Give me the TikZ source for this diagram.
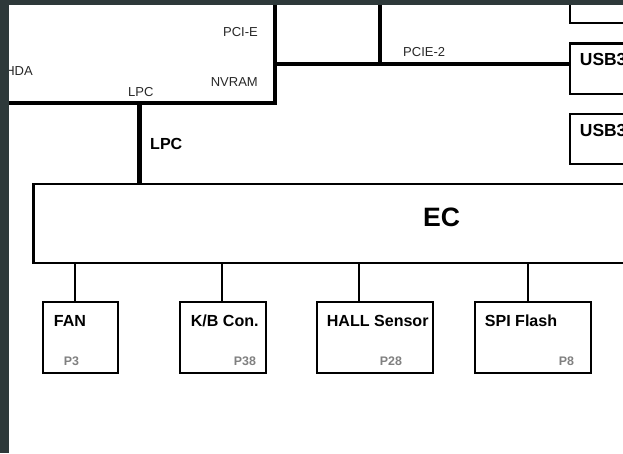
\documentclass[tikz,border=0pt]{standalone}
\usepackage{fontspec}
\setmainfont{Liberation Sans}
\newcommand\px{0.03cm}
\definecolor{framegrey}{RGB}{46,57,58}
\definecolor{pagegrey}{RGB}{128,128,128}
\definecolor{sigtext}{RGB}{40,40,40}
\tikzset{
  blk/.style 2 args={draw, line width=2.3pt, minimum width=#1*\px, minimum height=#2*\px, inner sep=0pt},
  bus/.style={line width=3.8pt},
  wire/.style={line width=2pt},
  ttl/.style={anchor=base west, inner sep=0pt, font=\fontsize{13.7}{16}\selectfont\bfseries},
  pg/.style={anchor=base west, inner sep=0pt, text=pagegrey, font=\fontsize{10.6}{13}\selectfont\bfseries},
  sig/.style={anchor=base east, inner sep=0pt, text=sigtext, font=\fontsize{11.1}{13}\selectfont},
}
\begin{document}
\begin{tikzpicture}[x=\px, y=-\px]
\useasboundingbox (0,0) rectangle (623,453);
\clip (0,0) rectangle (623,453);
% chipset (cut off at the top left)
\node[blk={315}{143}, line width=3.4pt] (pch) at (117.5,31.5) {};
\node[sig] (pcie) at (258,37) {PCI-E};
\node[sig] (nvram) at (258,87) {NVRAM};
\node[sig] (hda) at (33,76) {HDA};
\node[sig, anchor=base west] (lpc-s) at (128,97) {LPC};
% USB side
\node[blk={130}{63}] (usbtop) at (635,-8.5) {};
\node[blk={130}{50.3}] (usb1) at (635,68.85) {};
\node[blk={130}{50}] (usb2) at (635,139) {};
\node[ttl, font=\fontsize{14.9}{17}\selectfont\bfseries] (usb1-t) at ([shift={(11,23.3)}]usb1.north west) {USB3};
\node[ttl, font=\fontsize{14.9}{17}\selectfont\bfseries] (usb2-t) at ([shift={(11,24)}]usb2.north west) {USB3};
% EC
\node[blk={666.5}{79}, line width=2.1pt] (ec) at (366.75,223.5) {};
\node[ttl, font=\fontsize{22.7}{26}\selectfont\bfseries] (ec-t) at ([shift={(390.5,44)}]ec.north west) {EC};
% devices under the EC
\node[blk={75}{71}] (fan) at (80.5,337.5) {};
\node[blk={86}{71}] (kb) at (223,337.5) {};
\node[blk={116}{71}] (hall) at (375,337.5) {};
\node[blk={116}{71}] (spi) at (533,337.5) {};
\node[ttl] (fan-t) at ([shift={(12,26)}]fan.north west) {FAN};
\node[ttl] (kb-t) at ([shift={(12,26)}]kb.north west) {K/B Con.};
\node[ttl] (hall-t) at ([shift={(11,26)}]hall.north west) {HALL Sensor};
\node[ttl] (spi-t) at ([shift={(11,26)}]spi.north west) {SPI Flash};
\node[pg] (fan-p) at ([shift={(22,-9)}]fan.south west) {P3};
\node[pg] (kb-p) at ([shift={(55,-9)}]kb.south west) {P38};
\node[pg] (hall-p) at ([shift={(64,-9)}]hall.south west) {P28};
\node[pg] (spi-p) at ([shift={(85,-9)}]spi.south west) {P8};
% buses
\coordinate (lpcx) at (139.5,0);
\draw[bus] (pch.south -| lpcx) -- (ec.north -| lpcx);
\node[ttl] (lpc-t) at (150,149) {LPC};
\coordinate (pciey) at (0,63.8);
\draw[bus] (pch.east |- pciey) -- (usb1.west |- pciey);
\coordinate (pcie2) at (380,-10);
\draw[bus] (pcie2) -- (pcie2 |- pciey);
\node[sig, anchor=base west] (pcie2-s) at (403,57) {PCIE-2};
\coordinate (tapfan) at (75,0);
\coordinate (tapkb) at (222,0);
\coordinate (taphall) at (359,0);
\coordinate (tapspi) at (528,0);
\draw[wire] (ec.south -| tapfan) -- (fan.north -| tapfan);
\draw[wire] (ec.south -| tapkb) -- (kb.north -| tapkb);
\draw[wire] (ec.south -| taphall) -- (hall.north -| taphall);
\draw[wire] (ec.south -| tapspi) -- (spi.north -| tapspi);
% dark frame
\fill[framegrey] (0,0) rectangle (623,5.5);
\fill[framegrey] (0,0) rectangle (8.5,453);
\end{tikzpicture}
\end{document}
